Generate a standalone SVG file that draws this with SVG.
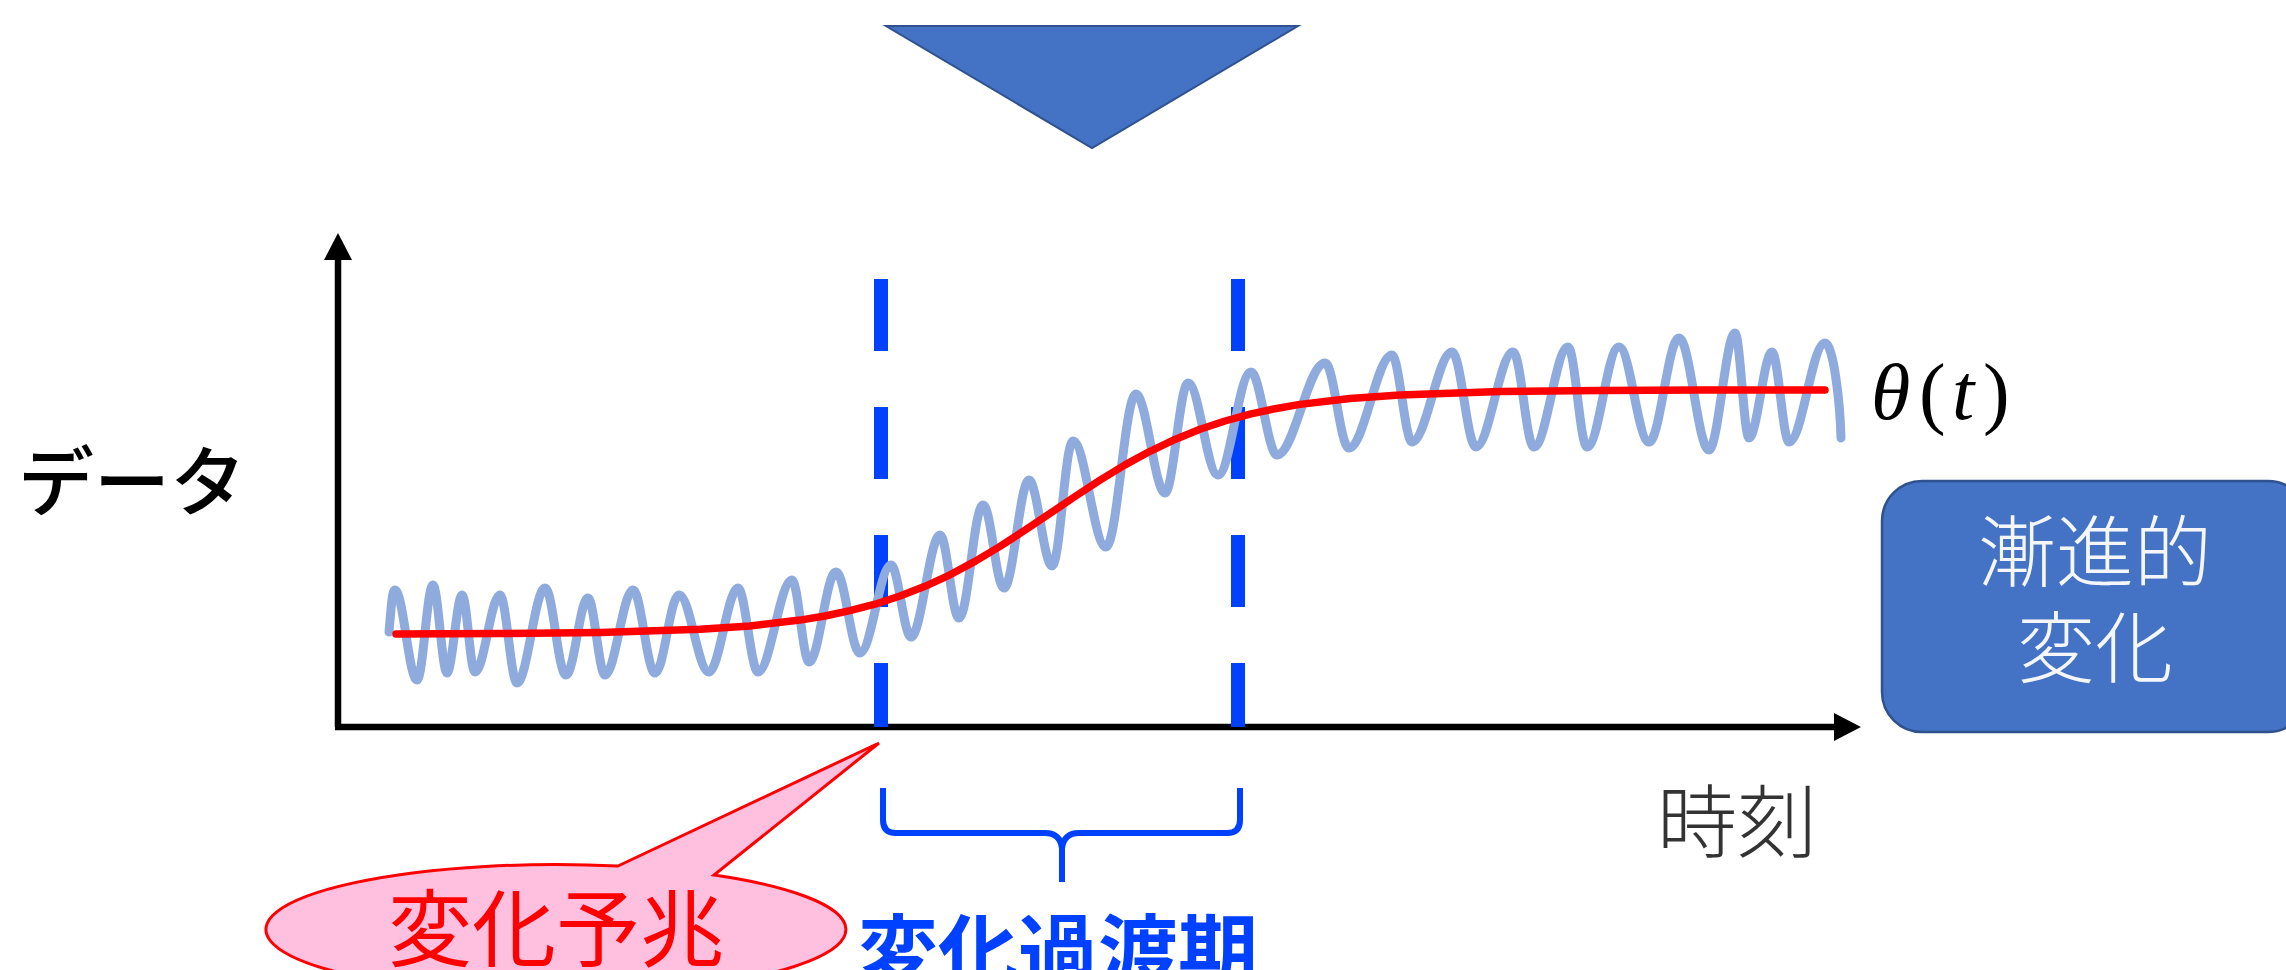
<svg xmlns="http://www.w3.org/2000/svg" width="2286" height="970" viewBox="0 0 2286 970">
  <style>
    .jp { font-family: "Noto Sans CJK JP", "Noto Sans CJK SC", sans-serif; }
    .axis { stroke: #000; stroke-width: 6.5; fill: none; }
    .dash { stroke: #0040FF; stroke-width: 14; stroke-dasharray: 72 56; fill: none; }
    .wave { stroke: #8FAADC; stroke-width: 9; fill: none; stroke-linejoin: round; stroke-linecap: round; }
    .trend { stroke: #FF0000; stroke-width: 7.5; fill: none; stroke-linejoin: round; stroke-linecap: round; }
  </style>
  <defs>
    <marker id="ah" markerUnits="userSpaceOnUse" viewBox="0 -14 27 28" markerWidth="27" markerHeight="28" refX="1" refY="0" orient="auto">
      <path d="M0,-14 L27,0 L0,14 z" fill="#000"/>
    </marker>
  </defs>
  <rect width="2286" height="970" fill="#FFFFFF"/>

  <g id="down-arrow">
    <polygon points="886,26 1298,26 1092,148" fill="#4472C4" stroke="#2F528F" stroke-width="2"/>
  </g>

  <g id="connectors">
    <path id="y-axis" class="axis" d="M338,727 L338,259" marker-end="url(#ah)"/>
    <path id="x-axis" class="axis" d="M335,727 L1835,727" marker-end="url(#ah)"/>
    <path id="dash-start" class="dash" d="M881,279 L881,727"/>
    <path id="dash-end" class="dash" d="M1238,279 L1238,727"/>
  </g>

  <g id="data-wave">
    <path class="wave" d="M389,632 C391,610 392,590 395,590
      C403,590 409,680 417,680 C423,680 427,585 433,585 C438,585 442,673 447,673 C452,673 457,595 462,595
      C467,595 470,672 475,672 C484,672 491,595 500,595 C506,595 511,683 517,683 C527,683 535,588 545,588
      C553,588 558,675 566,675 C574,675 580,598 588,598 C594,598 599,675 605,675 C615,675 623,590 633,590
      C641,590 647,673 655,673 C664,673 670,595 679,595 C690,595 698,672 709,672 C719,672 728,588 738,588
      C745,588 751,672 758,672 C770,672 780,580 792,580 C798,580 803,662 809,662 C819,662 826,572 836,572
      C845,572 851,653 860,653 C871,653 880,565 891,565 C898,565 904,637 911,637 C921,637 930,535 940,535
      C947,535 952,618 959,618 C968,618 974,505 983,505 C991,505 996,588 1004,588 C1013,588 1020,480 1029,480
      C1037,480 1044,566 1052,566 C1060,566 1065,441 1073,441 C1085,441 1094,547 1106,547 C1117,547 1125,394 1136,394
      C1146,394 1155,493 1165,493 C1173,493 1180,383 1188,383 C1199,383 1207,475 1218,475 C1230,475 1239,372 1251,372
      C1260,372 1268,455 1277,455 C1294,455 1308,363 1325,363 C1334,363 1340,448 1349,448 C1364,448 1377,355 1392,355
      C1399,355 1405,442 1412,442 C1426,442 1438,352 1452,352 C1461,352 1467,447 1476,447 C1489,447 1500,352 1513,352
      C1521,352 1526,447 1534,447 C1546,447 1556,347 1568,347 C1575,347 1580,447 1587,447 C1599,447 1607,347 1619,347
      C1630,347 1638,442 1649,442 C1660,442 1668,338 1679,338 C1690,338 1698,450 1709,450 C1718,450 1726,333 1735,333
      C1740,333 1744,438 1749,438 C1757,438 1764,352 1772,352 C1778,352 1783,442 1789,442 C1802,442 1812,343 1825,343
      C1833,343 1840,400 1841,438"/>
  </g>

  <g id="trend-curve">
    <polyline class="trend" points="396,634 500,633.5 600,632.4 700,629.3 750,625.9 800,620.1 825,616 850,610.7 875,604.2 900,596 925,586.3 950,574.8 975,561.4 1000,546.4 1025,530.2 1050,513.4 1075,496.5 1100,480.1 1125,464.9 1150,451.3 1175,439.4 1200,429.3 1225,421 1250,414.2 1275,408.7 1300,404.4 1350,398.5 1400,394.9 1500,391.6 1600,390.5 1700,390.1 1825,390"/>
  </g>

  <g id="label-data">
    <text class="jp" x="18" y="510" font-size="76" fill="#000" font-weight="500">データ</text>
  </g>

  <g id="label-theta">
    <text font-family="Liberation Serif, serif" font-size="80" fill="#000" y="419"><tspan x="1871" font-style="italic">θ</tspan><tspan x="1919">(</tspan><tspan x="1952" font-style="italic">t</tspan><tspan x="1983">)</tspan></text>
  </g>

  <g id="label-time">
    <text class="jp" x="1737" y="851" font-size="80" fill="#333" text-anchor="middle" font-weight="300">時刻</text>
  </g>

  <g id="gradual-change-box">
    <rect x="1882" y="481" width="426" height="251" rx="40" ry="40" fill="#4472C4" stroke="#2F528F" stroke-width="2.5"/>
    <text class="jp" x="2095" y="581" font-size="78" fill="#F4F6FA" text-anchor="middle" font-weight="300">漸進的</text>
    <text class="jp" x="2095" y="677" font-size="78" fill="#F4F6FA" text-anchor="middle" font-weight="300">変化</text>
  </g>

  <g id="brace">
    <path d="M883,788 V820 Q883,833 896,833 H1045 Q1060,833 1062,848 V882 M1062,848 Q1064,833 1079,833 H1227 Q1240,833 1240,820 V788" fill="none" stroke="#0040FF" stroke-width="6"/>
  </g>

  <g id="callout-sign">
    <path d="M618,866 L879,743 L714,875 A290,65 0 1 1 618,866 Z" fill="#FFBFDF" stroke="#FF0000" stroke-width="3" stroke-linejoin="miter"/>
    <text class="jp" x="556" y="960" font-size="84" fill="#FF0000" text-anchor="middle">変化予兆</text>
  </g>

  <g id="label-transition">
    <text class="jp" x="1058" y="981" font-size="80" fill="#0040FF" text-anchor="middle" font-weight="bold">変化過渡期</text>
  </g>
</svg>
